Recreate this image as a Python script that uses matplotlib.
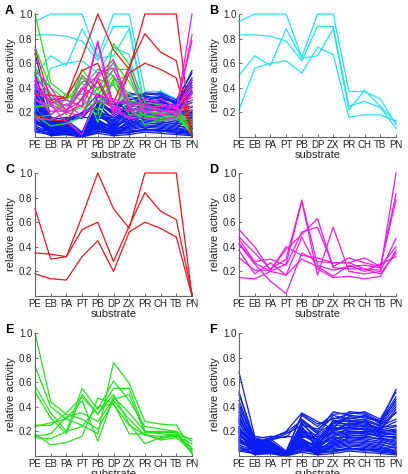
import matplotlib.pyplot as plt

plt.rcParams['font.family'] = ['Liberation Sans', 'DejaVu Sans']

substrates = ["PE", "EB", "PA", "PT", "PB", "DP", "ZX", "PR", "CH", "TB", "PN"]

# cluster profiles (relative activity per substrate)
cyanLines = [
    [0.94, 1.00, 1.00, 1.00, 0.65, 1.00, 1.00, 0.37, 0.37, 0.31, 0.10],
    [0.83, 0.83, 0.82, 0.78, 0.62, 0.90, 0.90, 0.25, 0.29, 0.24, 0.07],
    [0.50, 0.66, 0.58, 0.88, 0.64, 0.66, 0.88, 0.22, 0.38, 0.25, 0.12],
    [0.22, 0.56, 0.60, 0.62, 0.52, 0.73, 0.67, 0.16, 0.18, 0.18, 0.13],
]
redLines = [
    [0.71, 0.30, 0.32, 0.65, 1.00, 0.71, 0.55, 1.00, 1.00, 1.00, 0.00],
    [0.35, 0.34, 0.32, 0.54, 0.60, 0.28, 0.57, 0.84, 0.69, 0.62, 0.02],
    [0.18, 0.14, 0.13, 0.32, 0.45, 0.20, 0.52, 0.60, 0.55, 0.48, 0.00],
]
magentaLines = [
    [0.54, 0.40, 0.21, 0.38, 0.50, 0.63, 0.23, 0.22, 0.22, 0.21, 1.00],
    [0.48, 0.35, 0.22, 0.30, 0.78, 0.25, 0.21, 0.24, 0.25, 0.23, 0.83],
    [0.46, 0.28, 0.30, 0.25, 0.52, 0.56, 0.24, 0.31, 0.27, 0.24, 0.78],
    [0.43, 0.27, 0.20, 0.26, 0.77, 0.17, 0.56, 0.20, 0.18, 0.20, 0.47],
    [0.31, 0.21, 0.21, 0.40, 0.33, 0.31, 0.27, 0.27, 0.31, 0.24, 0.40],
    [0.15, 0.14, 0.20, 0.17, 0.48, 0.22, 0.15, 0.16, 0.14, 0.16, 0.37],
    [0.42, 0.26, 0.12, 0.02, 0.35, 0.28, 0.27, 0.27, 0.22, 0.18, 0.35],
    [0.37, 0.18, 0.27, 0.17, 0.30, 0.24, 0.16, 0.25, 0.20, 0.26, 0.32],
]
greenLines = [
    [1.00, 0.44, 0.34, 0.30, 0.22, 0.45, 0.30, 0.17, 0.14, 0.18, 0.02],
    [0.73, 0.40, 0.30, 0.25, 0.18, 0.76, 0.59, 0.28, 0.26, 0.25, 0.05],
    [0.57, 0.35, 0.20, 0.55, 0.38, 0.61, 0.45, 0.24, 0.22, 0.20, 0.03],
    [0.52, 0.31, 0.18, 0.50, 0.34, 0.55, 0.55, 0.20, 0.18, 0.17, 0.14],
    [0.25, 0.25, 0.35, 0.48, 0.34, 0.50, 0.26, 0.10, 0.15, 0.16, 0.10],
    [0.24, 0.27, 0.30, 0.45, 0.12, 0.48, 0.35, 0.20, 0.20, 0.20, 0.12],
    [0.18, 0.09, 0.11, 0.16, 0.47, 0.43, 0.18, 0.18, 0.13, 0.15, 0.04],
    [0.16, 0.18, 0.32, 0.35, 0.28, 0.46, 0.50, 0.19, 0.19, 0.19, 0.02],
    [0.15, 0.14, 0.20, 0.24, 0.40, 0.42, 0.25, 0.17, 0.16, 0.17, 0.06],
]
blueLines = [
    [0.68, 0.16, 0.14, 0.20, 0.35, 0.28, 0.22, 0.36, 0.35, 0.28, 0.54],
    [0.52, 0.12, 0.10, 0.02, 0.34, 0.26, 0.30, 0.34, 0.36, 0.30, 0.52],
    [0.50, 0.14, 0.16, 0.15, 0.30, 0.20, 0.36, 0.33, 0.32, 0.29, 0.44],
    [0.42, 0.10, 0.12, 0.01, 0.28, 0.18, 0.33, 0.30, 0.33, 0.27, 0.42],
    [0.38, 0.08, 0.09, 0.00, 0.27, 0.12, 0.28, 0.28, 0.30, 0.25, 0.40],
    [0.35, 0.11, 0.13, 0.18, 0.25, 0.22, 0.31, 0.29, 0.27, 0.22, 0.38],
    [0.33, 0.06, 0.05, 0.02, 0.22, 0.08, 0.27, 0.26, 0.28, 0.21, 0.36],
    [0.30, 0.09, 0.10, 0.01, 0.20, 0.17, 0.25, 0.25, 0.24, 0.20, 0.22],
    [0.28, 0.05, 0.07, 0.00, 0.18, 0.10, 0.22, 0.22, 0.23, 0.19, 0.20],
    [0.26, 0.13, 0.11, 0.03, 0.24, 0.05, 0.20, 0.24, 0.21, 0.17, 0.18],
    [0.24, 0.07, 0.04, 0.00, 0.16, 0.14, 0.18, 0.20, 0.19, 0.16, 0.15],
    [0.22, 0.04, 0.08, 0.02, 0.14, 0.06, 0.16, 0.18, 0.20, 0.15, 0.12],
    [0.20, 0.10, 0.06, 0.01, 0.13, 0.03, 0.14, 0.16, 0.17, 0.13, 0.10],
    [0.18, 0.03, 0.03, 0.00, 0.12, 0.09, 0.15, 0.15, 0.14, 0.12, 0.08],
    [0.17, 0.08, 0.12, 0.02, 0.10, 0.04, 0.12, 0.14, 0.13, 0.10, 0.06],
    [0.15, 0.02, 0.02, 0.00, 0.09, 0.02, 0.10, 0.12, 0.10, 0.08, 0.04],
    [0.14, 0.06, 0.09, 0.01, 0.08, 0.07, 0.08, 0.10, 0.09, 0.07, 0.03],
    [0.12, 0.04, 0.05, 0.00, 0.07, 0.03, 0.06, 0.08, 0.07, 0.05, 0.02],
    [0.10, 0.09, 0.07, 0.03, 0.06, 0.05, 0.05, 0.06, 0.06, 0.04, 0.05],
    [0.08, 0.02, 0.04, 0.00, 0.05, 0.02, 0.04, 0.05, 0.05, 0.03, 0.02],
    [0.06, 0.05, 0.03, 0.01, 0.04, 0.04, 0.03, 0.07, 0.04, 0.06, 0.07],
    [0.45, 0.12, 0.14, 0.04, 0.33, 0.24, 0.34, 0.35, 0.34, 0.26, 0.46],
    [0.40, 0.15, 0.06, 0.00, 0.26, 0.15, 0.24, 0.31, 0.29, 0.24, 0.30],
    [0.31, 0.10, 0.11, 0.02, 0.21, 0.11, 0.21, 0.27, 0.26, 0.23, 0.25],
    [0.27, 0.07, 0.08, 0.01, 0.19, 0.13, 0.23, 0.23, 0.25, 0.21, 0.24],
    [0.21, 0.11, 0.13, 0.16, 0.15, 0.16, 0.19, 0.21, 0.22, 0.18, 0.19],
    [0.19, 0.05, 0.10, 0.00, 0.11, 0.08, 0.17, 0.19, 0.18, 0.16, 0.16],
    [0.16, 0.08, 0.06, 0.02, 0.17, 0.10, 0.13, 0.17, 0.16, 0.14, 0.13],
    [0.13, 0.03, 0.04, 0.00, 0.10, 0.06, 0.11, 0.13, 0.12, 0.11, 0.09],
    [0.11, 0.06, 0.08, 0.01, 0.08, 0.01, 0.09, 0.11, 0.11, 0.09, 0.07],
    [0.09, 0.04, 0.05, 0.00, 0.12, 0.04, 0.07, 0.09, 0.08, 0.06, 0.04],
    [0.07, 0.01, 0.02, 0.00, 0.05, 0.03, 0.04, 0.06, 0.05, 0.04, 0.03],
    [0.36, 0.09, 0.15, 0.19, 0.29, 0.19, 0.26, 0.32, 0.31, 0.28, 0.48],
    [0.29, 0.14, 0.12, 0.03, 0.23, 0.12, 0.29, 0.28, 0.28, 0.25, 0.35],
    [0.23, 0.06, 0.09, 0.00, 0.20, 0.09, 0.20, 0.26, 0.25, 0.22, 0.28],
    [0.19, 0.12, 0.07, 0.01, 0.14, 0.07, 0.16, 0.23, 0.22, 0.20, 0.21],
    [0.14, 0.05, 0.11, 0.02, 0.11, 0.05, 0.12, 0.20, 0.20, 0.19, 0.17],
    [0.12, 0.09, 0.04, 0.00, 0.09, 0.03, 0.10, 0.18, 0.18, 0.17, 0.14],
    [0.05, 0.03, 0.06, 0.01, 0.07, 0.02, 0.08, 0.15, 0.15, 0.14, 0.11],
    [0.04, 0.02, 0.03, 0.00, 0.03, 0.01, 0.02, 0.04, 0.03, 0.02, 0.01],
]
# a few extra profiles that only show up in the overview panel
grayLines = [
    [0.36, 0.30, 0.22, 0.45, 0.48, 0.60, 0.30, 0.25, 0.22, 0.20, 0.25],
    [0.30, 0.25, 0.20, 0.50, 0.40, 0.55, 0.28, 0.20, 0.18, 0.17, 0.30],
    [0.40, 0.32, 0.25, 0.40, 0.55, 0.50, 0.22, 0.15, 0.14, 0.14, 0.22],
]

CYAN = "#22e2ea"
RED = "#e8161c"
MAGENTA = "#f01ce4"
GREEN = "#22e21c"
BLUE = "#0a1ef2"
GRAY = "#8a8a8a"

fig = plt.figure(figsize=(4.08, 4.74), dpi=100)

W, H = 408.0, 474.0
axW, axH = 157, 123
lefts = [35, 239]
tops = [14, 173, 333]


def make_axes(col, row, letter):
    ax = fig.add_axes([lefts[col] / W, 1 - (tops[row] + axH) / H, axW / W, axH / H])
    ax.set_xlim(0, len(substrates) - 1)
    ax.set_ylim(0, 1)
    ax.set_xticks(range(len(substrates)))
    ax.set_xticklabels(substrates)
    ax.set_yticks([0.2, 0.4, 0.6, 0.8, 1.0])
    ax.set_yticklabels(["0.2", "0.4", "0.6", "0.8", "1.0"])
    ax.tick_params(direction="in", length=2, width=0.6, labelsize=7, pad=2,
                   color="#555555", labelcolor="#222222")
    for s in ["top", "right"]:
        ax.spines[s].set_visible(False)
    for s in ["left", "bottom"]:
        ax.spines[s].set_color("#666666")
        ax.spines[s].set_linewidth(0.8)
    ax.set_xlabel("substrate", fontsize=8, labelpad=0, color="#222222")
    ax.set_ylabel("relative activity", fontsize=8, labelpad=2, color="#222222")
    fig.text((lefts[col] - 30) / W, 1 - (tops[row] - 3) / H, letter,
             fontsize=9, fontweight="bold", va="center", ha="left")
    return ax


def draw(ax, lines, color):
    x = list(range(len(substrates)))
    for vals in lines:
        ax.plot(x, vals, color=color, lw=0.9, clip_on=False)


axA = make_axes(0, 0, "A")
draw(axA, cyanLines, CYAN)
draw(axA, blueLines, BLUE)
draw(axA, greenLines, GREEN)
draw(axA, grayLines, GRAY)
draw(axA, redLines, RED)
draw(axA, magentaLines, MAGENTA)

axB = make_axes(1, 0, "B")
draw(axB, cyanLines, CYAN)

axC = make_axes(0, 1, "C")
draw(axC, redLines, RED)

axD = make_axes(1, 1, "D")
draw(axD, magentaLines, MAGENTA)

axE = make_axes(0, 2, "E")
draw(axE, greenLines, GREEN)

axF = make_axes(1, 2, "F")
draw(axF, blueLines, BLUE)

fig.savefig("out.png", dpi=100)
